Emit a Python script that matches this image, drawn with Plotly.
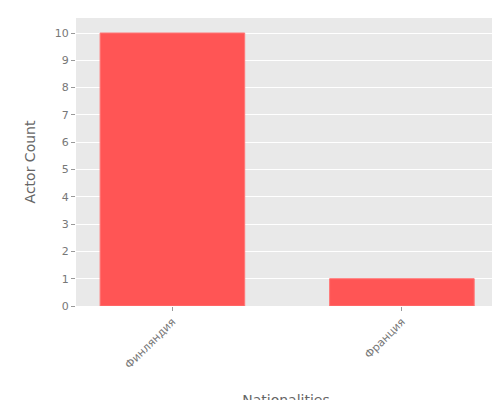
import plotly.graph_objects as go

categories = ["Финляндия", "Франция"]
counts = [10, 1]
tick_vals = list(range(0, 11))

fig = go.Figure(go.Bar(x=categories, y=counts, marker=dict(color="#FF5555", line=dict(color="#FF7777", width=1)), width=0.63))
fig.update_layout(
    width=500, height=400,
    margin=dict(l=68, r=12, t=10, b=102, autoexpand=False),
    plot_bgcolor="#E9E9E9", paper_bgcolor="white",
    font=dict(family="DejaVu Sans", color="#777777", size=11),
    showlegend=False,
)
fig.update_xaxes(title=dict(text="Nationalities", font=dict(size=14, color="#666666"), standoff=25),
                 tickangle=-45, range=[-0.42, 1.41], automargin=False,
                 showgrid=False, ticks="outside", ticklen=4, tickcolor="#999999")
fig.update_yaxes(title=dict(text="Actor Count", font=dict(size=14, color="#666666")), tickvals=tick_vals,
                 range=[0, 10.55], automargin=False, gridcolor="white", zeroline=False,
                 ticks="outside", ticklen=4, tickcolor="#999999")
fig.write_html("out.html")
